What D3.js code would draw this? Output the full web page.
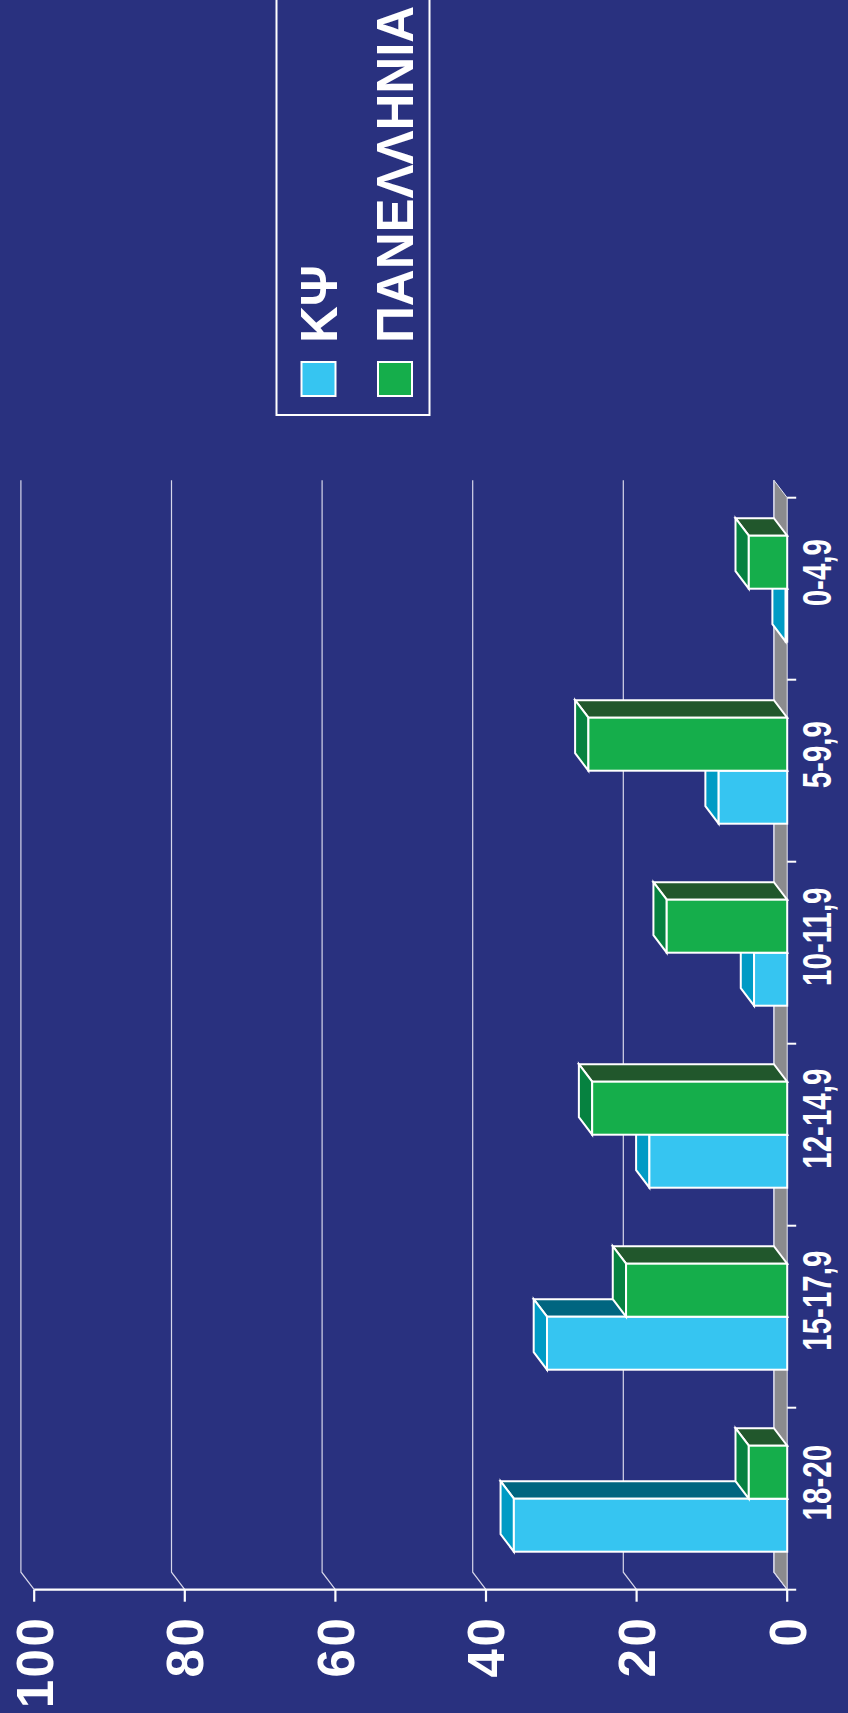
<!DOCTYPE html>
<html><head><meta charset="utf-8">
<script src="https://cdn.jsdelivr.net/npm/d3@7/dist/d3.min.js"></script>
<style>html,body{margin:0;padding:0;background:#29317F;overflow:hidden}</style>
</head><body>
<svg id="chart" width="848" height="1713"></svg>
<script>
// ---- data ----
const categories = ["18-20", "15-17,9", "12-14,9", "10-11,9", "5-9,9", "0-4,9"];
const seriesNames = ["ΚΨ", "ΠΑΝΕΛΛΗΝΙΑ"];
const kpsValues = [36.3, 31.9, 18.3, 4.4, 9.1, 0.2];
const panValues = [5.1, 21.4, 25.9, 16.0, 26.4, 5.1];
const valueTicks = [0, 20, 40, 60, 80, 100];

// ---- style ----
const BG = "#29317F";
const palette = {
  "ΚΨ": {front: "#36C5F1", side: "#009BC5", top: "#006580"},
  "ΠΑΝΕΛΛΗΝΙΑ": {front: "#15AE4B", side: "#068240", top: "#21572C"}
};
const FONT = "'Liberation Sans', Arial, Helvetica, sans-serif";

const svg = d3.select("#chart");
svg.append("rect").attr("width", 848).attr("height", 1713).attr("fill", BG);

// geometry (chart is drawn rotated: values run right->left, categories bottom->top)
const dx = -13.3, dy = -17.5;          // depth offset (front -> back)
const x = d3.scaleLinear().domain([0, 100]).range([787.2, 34.2]);
const y = d3.scaleBand().domain(categories).range([1589.7, 497.7]);
const inner = d3.scaleBand().domain(seriesNames).range([y.bandwidth() / 2 + 53, y.bandwidth() / 2 - 53]);
const x0 = x(0), yTop = y.range()[1], yBot = y.range()[0];

// floor (value = 0 plane)
svg.append("path")
  .attr("d", `M${x0},${yTop} L${x0},${yBot} L${x0 + dx},${yBot + dy} L${x0 + dx},${yTop + dy} Z`)
  .attr("fill", "#8B8B8E").attr("stroke", "#E6E6F0").attr("stroke-width", 1);

// back wall gridlines + value ticks
const grid = svg.append("g");
valueTicks.forEach(t => {
  const xf = x(t), xb = xf + dx;
  grid.append("path")
    .attr("d", `M${xb},${yTop + dy} L${xb},${yBot + dy} L${xf},${yBot}`)
    .attr("fill", "none").attr("stroke", "#D6D6EA").attr("stroke-width", 1.2);
  grid.append("path")
    .attr("d", `M${xf},${yBot} L${xf},${yBot + 12}`)
    .attr("stroke", "#FFFFFF").attr("stroke-width", 2.2);
});
// front value axis line
svg.append("path").attr("d", `M${x(100)},${yBot} L${x0},${yBot}`)
  .attr("stroke", "#FFFFFF").attr("stroke-width", 2.2);

// category ticks
y.domain().forEach((c, i) => {
  const b = y(c) + y.bandwidth();
  svg.append("path").attr("d", `M${x0},${b} L${x0 + 9},${b}`).attr("stroke", "#FFFFFF").attr("stroke-width", 2);
  if (i === categories.length - 1) {
    svg.append("path").attr("d", `M${x0},${y(c)} L${x0 + 9},${y(c)}`).attr("stroke", "#FFFFFF").attr("stroke-width", 2);
  }
});

// bars (drawn bottom to top so upper bars cover top faces)
const bars = [];
categories.forEach((c, i) => {
  bars.push({cat: c, s: "ΚΨ", v: kpsValues[i]});
  bars.push({cat: c, s: "ΠΑΝΕΛΛΗΝΙΑ", v: panValues[i]});
});
const barH = inner.bandwidth();
const gBars = svg.append("g").attr("stroke", "#FFFFFF").attr("stroke-width", 2).attr("stroke-linejoin", "miter");
bars.forEach(d => {
  const y0 = y(d.cat) + inner(d.s);
  const xf = x(d.v);
  const col = palette[d.s];
  const g = gBars.append("g");
  g.append("path")
    .attr("d", `M${xf},${y0} L${x0},${y0} L${x0 + dx},${y0 + dy} L${xf + dx},${y0 + dy} Z`)
    .attr("fill", col.top);
  g.append("path")
    .attr("d", `M${xf},${y0} L${xf + dx},${y0 + dy} L${xf + dx},${y0 + barH + dy} L${xf},${y0 + barH} Z`)
    .attr("fill", col.side);
  g.append("rect")
    .attr("x", xf).attr("y", y0).attr("width", x0 - xf).attr("height", barH)
    .attr("fill", col.front);
});

// value labels
svg.append("g").selectAll("text").data(valueTicks).join("text")
  .attr("transform", d => `translate(${x(d)},${yBot + 26}) rotate(-90)`)
  .attr("text-anchor", "end").attr("dy", "0.36em")
  .attr("font-family", FONT).attr("font-weight", "bold").attr("font-size", 51)
  .attr("letter-spacing", 2.5)
  .attr("fill", "#FFFFFF").text(d => d);

// category labels (slightly condensed)
svg.append("g").selectAll("text").data(categories).join("text")
  .attr("transform", d => `translate(${x0 + 29},${y(d) + y.bandwidth() / 2 - 16}) rotate(-90) scale(0.72,1)`)
  .attr("text-anchor", "middle").attr("dy", "0.36em")
  .attr("font-family", FONT).attr("font-weight", "bold").attr("font-size", 41)
  .attr("fill", "#FFFFFF").text(d => d);

// legend
const lg = svg.append("g");
lg.append("rect").attr("x", 276.5).attr("y", -10).attr("width", 153).attr("height", 425)
  .attr("fill", BG).attr("stroke", "#FFFFFF").attr("stroke-width", 2);
const legX = d3.scalePoint().domain(seriesNames).range([318.5, 395]);
seriesNames.forEach(s => {
  const cx = legX(s);
  lg.append("rect").attr("x", cx - 17).attr("y", 362).attr("width", 34).attr("height", 34)
    .attr("fill", palette[s].front).attr("stroke", "#FFFFFF").attr("stroke-width", 2);
  lg.append("text").attr("transform", `translate(${cx},343) rotate(-90)`)
    .attr("text-anchor", "start").attr("dy", "0.36em")
    .attr("font-family", FONT).attr("font-weight", "bold").attr("font-size", 51)
    .attr("fill", "#FFFFFF").text(s);
});
</script>
</body></html>
